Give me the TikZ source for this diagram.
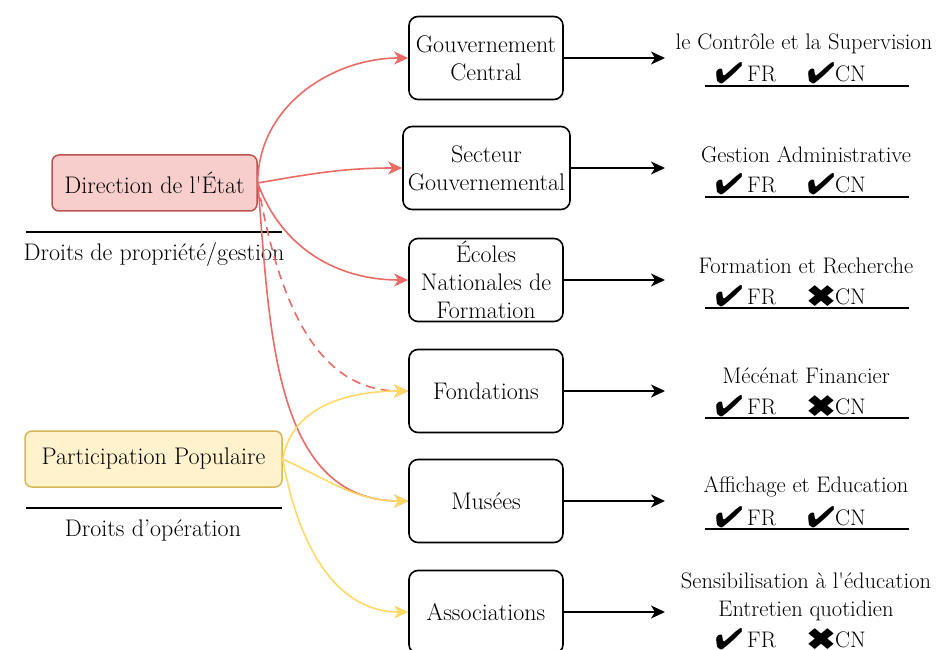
\documentclass[tikz,border=0pt]{standalone}
\usepackage{pifont}
\usepackage{graphicx}
\usetikzlibrary{arrows.meta}
\definecolor{redl}{HTML}{EA6B66}
\definecolor{yell}{HTML}{FFD966}
\definecolor{redfill}{HTML}{F8CECC}
\definecolor{reddraw}{HTML}{B85450}
\definecolor{yelfill}{HTML}{FFF2CC}
\definecolor{yeldraw}{HTML}{D6B656}
\tikzset{
  srcbox/.style={draw, rounded corners=7pt, line width=1.5pt, minimum height=56pt, inner sep=0pt},
  midbox/.style={draw, rounded corners=9pt, line width=1.6pt, minimum width=154pt, minimum height=83pt, align=center, inner sep=0pt},
  lbl/.style={inner sep=0pt, align=center},
  rtxt/.style={inner sep=0pt, align=center, font=\fontsize{22.5}{28}\selectfont},
  chk/.style={inner sep=0pt, anchor=base west, font=\fontsize{22.5}{28}\selectfont},
  tip/.style={-{Stealth[length=14pt,width=13pt,inset=4pt]}},
  blk/.style={tip, line width=1.6pt},
  rarr/.style={tip, draw=redl, line width=1.6pt},
  yarr/.style={tip, draw=yell, line width=1.6pt},
  rule/.style={line width=1.2pt}
}
\newcommand{\yes}{\raisebox{-2pt}{\resizebox{28pt}{21pt}{\ding{52}}}}
\newcommand{\no}{\raisebox{-2pt}{\resizebox{28pt}{21pt}{\ding{54}}}}
\newcommand{\apo}{\textquotesingle}
\newcommand{\frcn}[2]{#1\hspace{4pt}FR\hspace{31pt}#2CN}
\begin{document}
\begin{tikzpicture}[x=1pt,y=-1pt, font=\fontsize{24}{28}\selectfont]
\useasboundingbox (0,0) rectangle (938,650);

% source nodes
\node[srcbox, fill=redfill, draw=reddraw, minimum width=205pt] (etat) at (154.5,183) {Direction de l\apo État};
\node[srcbox, fill=yelfill, draw=yeldraw, minimum width=257pt] (pop) at (153.5,459) {Participation Populaire};
\draw[rule] (26,232) -- (282,232);
\node[lbl] (etatlbl) at (154,254) {Droits de propriété/gestion};
\draw[rule] (26,508) -- (282,508);
\node[lbl] (poplbl) at (153,530) {Droits d'opération};

% middle boxes
\node[midbox] (gc) at (486,58) {Gouvernement\\Central};
\node[midbox, minimum width=167pt] (sg) at (486.5,168) {Secteur\\Gouvernemental};
\node[midbox] (enf) at (486,280) {};
\node[lbl] (enft) at (486,280) {Écoles\\Nationales de\\Formation};
\node[midbox] (fo) at (486,391) {Fondations};
\node[midbox] (mu) at (486,501) {Musées};
\node[midbox] (as) at (486,612) {Associations};

% free ends of black arrows
\coordinate (e1) at (665,58);
\coordinate (e2) at (665,168);
\coordinate (e3) at (665,280);
\coordinate (e4) at (665,391);
\coordinate (e5) at (665,501);
\coordinate (e6) at (665,612);
\draw[blk] (gc.east) -- (e1);
\draw[blk] (sg.east) -- (e2);
\draw[blk] (enf.east) -- (e3);
\draw[blk] (fo.east) -- (e4);
\draw[blk] (mu.east) -- (e5);
\draw[blk] (as.east) -- (e6);

% right texts
\node[rtxt] (t1) at (804,44) {le Contrôle et la Supervision};
\node[chk] (c1) at (715,82) {\frcn{\yes}{\yes}};
\draw[rule] (705,86) -- (909,86);
\node[rtxt] (t2) at (806,155) {Gestion Administrative};
\node[chk] (c2) at (715,193) {\frcn{\yes}{\yes}};
\draw[rule] (705,197) -- (909,197);
\node[rtxt] (t3) at (806,266) {Formation et Recherche};
\node[chk] (c3) at (715,304) {\frcn{\yes}{\no}};
\draw[rule] (705,308) -- (909,308);
\node[rtxt] (t4) at (806,376) {Mécénat Financier};
\node[chk] (c4) at (715,414) {\frcn{\yes}{\no}};
\draw[rule] (705,418) -- (909,418);
\node[rtxt] (t5) at (806,487) {Affichage et Education};
\node[chk] (c5) at (715,525) {\frcn{\yes}{\yes}};
\draw[rule] (705,529) -- (909,529);
\node[rtxt] (t6) at (806,597) {Sensibilisation à l\apo éducation\\Entretien quotidien};
\node[chk] (c6) at (715,647) {\frcn{\yes}{\no}};

% red arrows
\draw[rarr] (etat.east) to[out=90,in=180] (gc.west);
\draw[rarr] (etat.east) to[out=10,in=180] (sg.west);
\draw[rarr] (etat.east) to[out=-70,in=180] (enf.west);
\draw[rarr, dashed, dash pattern=on 9pt off 6pt] (etat.east) to[out=-80,in=180] (fo.west);
\draw[rarr] (etat.east) to[out=-85,in=180] (mu.west);

% yellow arrows
\draw[yarr] (pop.east) to[out=80,in=180] (fo.west);
\draw[yarr] (pop.east) to[out=-25,in=180] (mu.west);
\draw[yarr] (pop.east) to[out=-80,in=180] (as.west);
\end{tikzpicture}
\end{document}
